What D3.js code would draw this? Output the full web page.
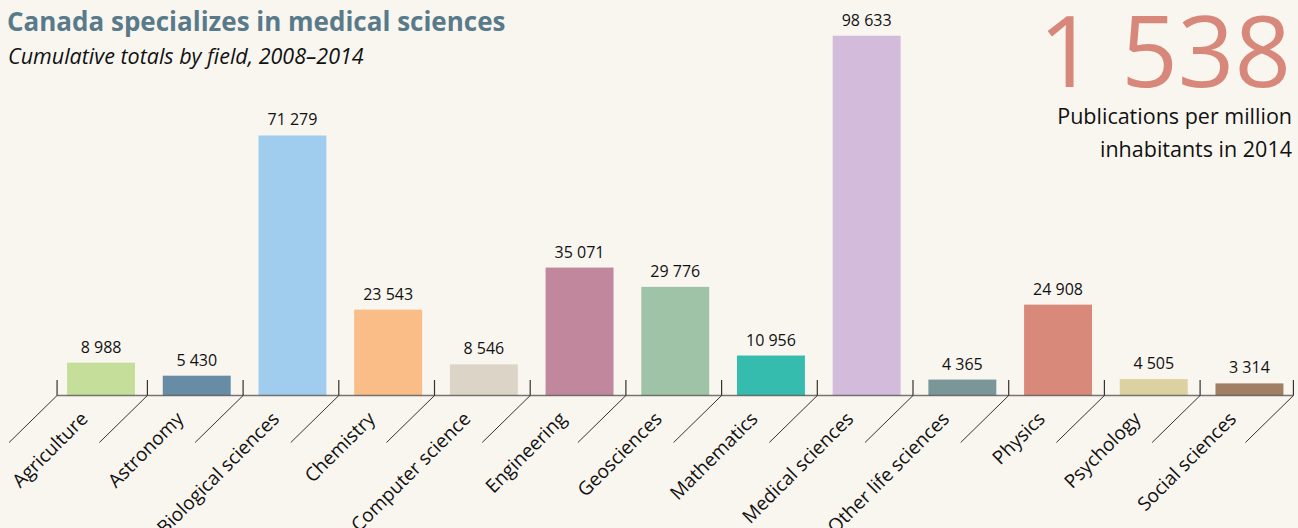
<!DOCTYPE html>
<html>
<head>
<meta charset="utf-8">
<script src="https://cdn.jsdelivr.net/npm/d3@7"></script>
<style>
  body { margin: 0; background: #f9f6f0; }
  svg { display: block; font-family: "Open Sans", sans-serif; }
</style>
</head>
<body>
<div id="chart"></div>
<script>
var categories = ["Agriculture", "Astronomy", "Biological sciences", "Chemistry", "Computer science",
  "Engineering", "Geosciences", "Mathematics", "Medical sciences", "Other life sciences",
  "Physics", "Psychology", "Social sciences"];
var publications = [8988, 5430, 71279, 23543, 8546, 35071, 29776, 10956, 98633, 4365, 24908, 4505, 3314];
var barColors = ["#c5df9a", "#668ca6", "#a0cdee", "#fbbd87", "#dcd4c6", "#c1879c", "#9fc3a7",
  "#35bcae", "#d3bbdc", "#7a9699", "#d9897a", "#dcd2a1", "#a07f62"];
var perMillion = 1538;

var width = 1298, height = 528;
var baseY = 395.5;

var svg = d3.select("#chart").append("svg")
    .attr("width", width)
    .attr("height", height);

svg.append("rect").attr("width", width).attr("height", height).attr("fill", "#f9f6f0");

var x = d3.scaleBand()
    .domain(categories)
    .range([53.2, 1297.3])
    .paddingInner(0.29)
    .paddingOuter(0.145);

var y = d3.scaleLinear()
    .domain([0, 98633])
    .range([baseY, 35.7]);

var fmtSpace = d3.formatLocale({decimal: ".", thousands: " ", grouping: [3], currency: ["", ""]}).format(",d");

// title
svg.append("text")
    .attr("x", 7).attr("y", 31)
    .style("font-weight", "bold")
    .style("font-size", "26px")
    .style("fill", "#587a8a")
    .text("Canada specializes in medical sciences");

svg.append("text")
    .attr("x", 8).attr("y", 64)
    .style("font-style", "italic")
    .style("font-size", "21.5px")
    .style("fill", "#111")
    .text("Cumulative totals by field, 2008–2014");

// big number
svg.append("text")
    .attr("x", 1291).attr("y", 87)
    .attr("text-anchor", "end")
    .style("font-size", "99px")
    .style("font-weight", 400)
    .style("fill", "#d7887a")
    .text(fmtSpace(perMillion));

svg.append("text")
    .attr("x", 1292).attr("y", 124)
    .attr("text-anchor", "end")
    .style("font-size", "21.5px")
    .style("fill", "#111")
    .text("Publications per million");

svg.append("text")
    .attr("x", 1292).attr("y", 157)
    .attr("text-anchor", "end")
    .style("font-size", "21.5px")
    .style("fill", "#111")
    .text("inhabitants in 2014");

var data = categories.map(function(c, i) {
  return {category: c, value: publications[i], color: barColors[i]};
});

// bars
svg.append("g").selectAll(".bar")
    .data(data)
    .enter().append("rect")
    .attr("class", "bar")
    .attr("x", function(d) { return x(d.category); })
    .attr("y", function(d) { return y(d.value); })
    .attr("width", x.bandwidth())
    .attr("height", function(d) { return baseY - y(d.value); })
    .style("fill", function(d) { return d.color; });

// value labels
svg.append("g").selectAll(".val")
    .data(data)
    .enter().append("text")
    .attr("class", "val")
    .attr("x", function(d) { return x(d.category) + x.bandwidth() / 2; })
    .attr("y", function(d) { return y(d.value) - 10; })
    .attr("text-anchor", "middle")
    .style("font-size", "16px")
    .style("fill", "#111")
    .text(function(d) { return fmtSpace(d.value); });

// tick positions: between bars, plus the two ends
var step = x.step();
var ticks = categories.map(function(c) { return x(c) - (step - x.bandwidth()) / 2 - 1.5; });
ticks[0] = x(categories[0]) - 10;
ticks.push(x(categories[categories.length - 1]) + x.bandwidth() + 10);

var axis = svg.append("g").attr("class", "axis");

axis.append("line")
    .attr("x1", ticks[0]).attr("x2", ticks[ticks.length - 1])
    .attr("y1", baseY).attr("y2", baseY)
    .attr("stroke", "#555").attr("stroke-width", 1.6).attr("stroke-opacity", 0.8);

axis.selectAll(".tick")
    .data(ticks)
    .enter().append("line")
    .attr("x1", function(d) { return d; }).attr("x2", function(d) { return d; })
    .attr("y1", 380).attr("y2", baseY)
    .attr("stroke", "#333").attr("stroke-width", 1.2);

axis.selectAll(".diag")
    .data(ticks)
    .enter().append("line")
    .attr("x1", function(d) { return d; }).attr("x2", function(d) { return d - 48; })
    .attr("y1", baseY).attr("y2", baseY + 47)
    .attr("stroke", "#333").attr("stroke-width", 1);

// category labels
svg.append("g").selectAll(".cat")
    .data(data)
    .enter().append("text")
    .attr("class", "cat")
    .attr("transform", function(d) {
      var cx = x(d.category) + x.bandwidth() / 2;
      return "translate(" + (cx - 12) + "," + 420 + ") rotate(-45)";
    })
    .attr("text-anchor", "end")
    .style("font-size", "19px")
    .style("fill", "#111")
    .text(function(d) { return d.category; });
</script>
</body>
</html>
